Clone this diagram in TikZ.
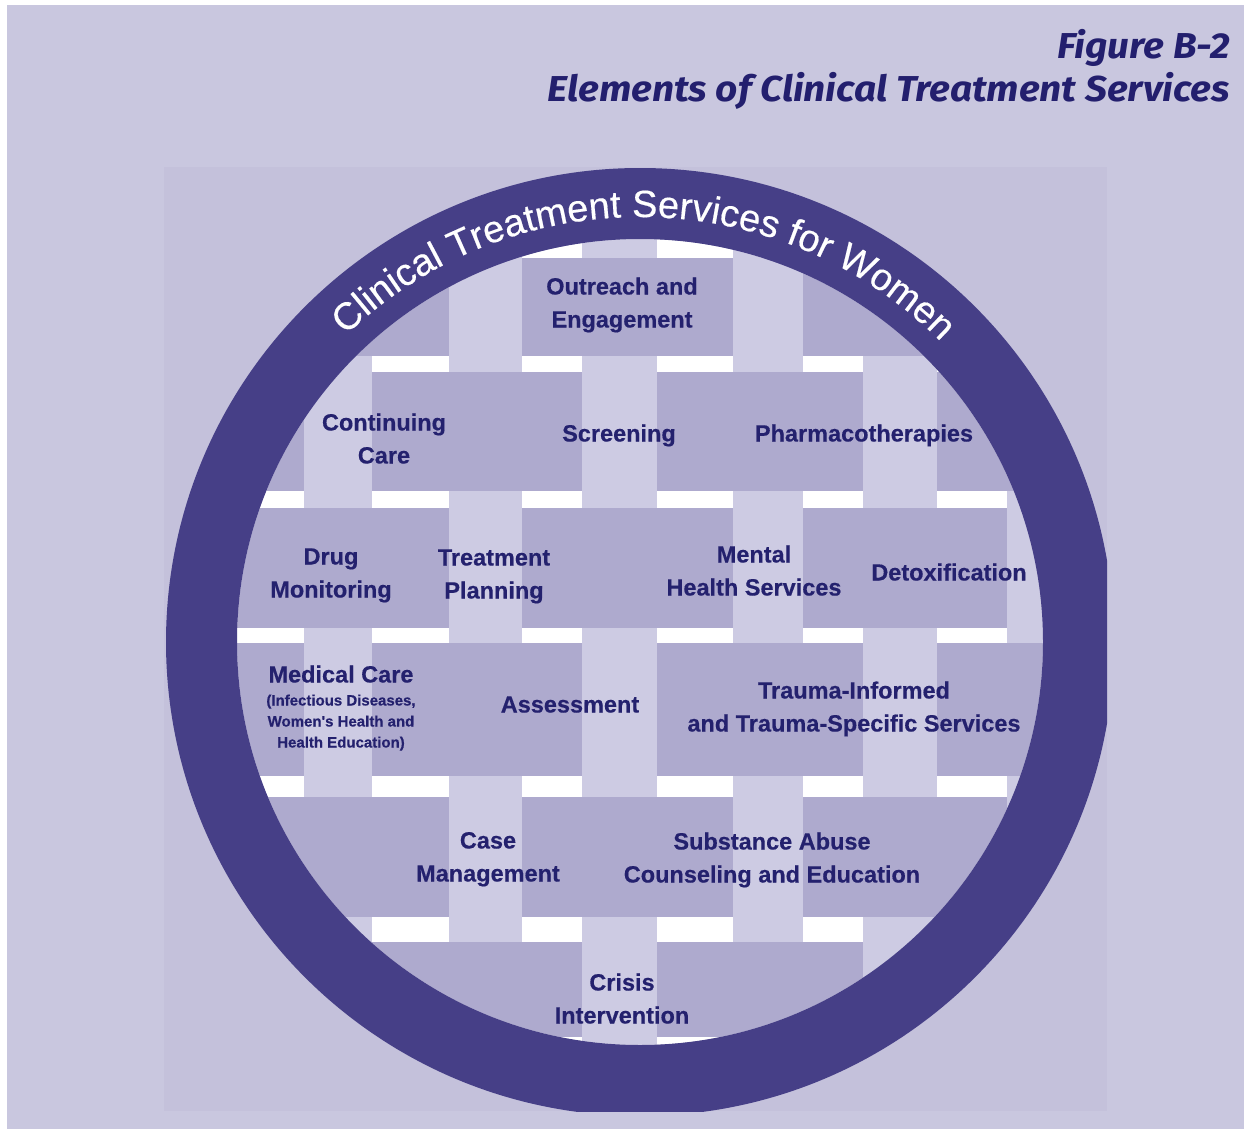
\documentclass[tikz,border=0pt]{standalone}
\usepackage{fontspec}
\usepackage{graphicx}
\setmainfont{Liberation Sans}
\newfontfamily\titlefam{Fira Sans}
\newfontfamily\lblfam{Liberation Sans}[BoldFeatures={FakeBold=0.4}]
\newfontfamily\ringfam{Liberation Sans}[FakeBold=0.4]
\usetikzlibrary{decorations.text}
\definecolor{bgc}{RGB}{201,199,223}
\definecolor{panelc}{RGB}{196,193,219}
\definecolor{ringc}{RGB}{70,63,135}
\definecolor{rowc}{RGB}{174,170,206}
\definecolor{colc}{RGB}{205,203,227}
\definecolor{navy}{RGB}{36,33,110}
\definecolor{titlec}{RGB}{35,31,110}
\newcommand\ringfont{\fontsize{38}{38}\selectfont\ringfam\color{white}}
\newcommand\titlefont{\fontsize{36}{40}\selectfont\titlefam\bfseries\itshape}
\newlength\ttlwd
\begin{document}
\settowidth\ttlwd{\titlefont Elements of Clinical Treatment Services}%
\pgfmathsetmacro\tsx{682/\ttlwd}%
\begin{tikzpicture}[x=1pt,y=-1pt,
  rowstrip/.style={fill=rowc},
  colstrip/.style={fill=colc},
  lbl/.style={text=navy, font=\fontsize{23.5}{33}\selectfont\lblfam\bfseries, align=center, anchor=base, inner sep=0pt},
  sublbl/.style={text=navy, font=\fontsize{15}{21}\selectfont\lblfam\bfseries, align=center, anchor=base, inner sep=0pt},
  ttl/.style={text=titlec, anchor=base east, inner sep=0pt}]
\useasboundingbox (0,0) rectangle (1244,1129);
\fill[white] (0,0) rectangle (1244,1129);
\fill[bgc] (7,5) rectangle (1244,1129);
\fill[panelc] (164,167) rectangle (1107,1111);
% weave inside the circle
\begin{scope}
  \clip (640,642) circle[radius=403];
  \fill[white] (230,230) rectangle (1050,1050);
  \foreach \xa/\xb in {304/372,449/522,582/657,733/803,863/937,1007/1080}
    \fill[colstrip] (\xa,230) rectangle (\xb,1050);
  \foreach \ya/\yb in {258/356,372/491,508/628,643/776,797/917,942/1037}
    \fill[rowstrip] (230,\ya) rectangle (1050,\yb);
  % columns over rows 0,2,4 at B,D,F
  \foreach \ya/\yb in {258/356,508/628,797/917}
    \foreach \xa/\xb in {449/522,733/803,1007/1080}
      \fill[colstrip] (\xa,\ya) rectangle (\xb,\yb);
  % columns over rows 1,3,5 at A,C,E
  \foreach \ya/\yb in {372/491,643/776,942/1037}
    \foreach \xa/\xb in {304/372,582/657,863/937}
      \fill[colstrip] (\xa,\ya) rectangle (\xb,\yb);
\end{scope}
% ring
\begin{scope}
  \clip (164,167) rectangle (1107,1111);
  \fill[ringc, even odd rule] (640,642) circle[radius=474] (640,642) circle[radius=403];
\end{scope}
\path[decorate, decoration={text along path, text align=center,
  text={|\ringfont|Clinical Treatment Services for Women}}]
  (640,642) ++(-134.2:425) arc[start angle=-134.2, end angle=-44.6, radius=425];
% title
\node[ttl] (title1) at (1230,59) {\scalebox{\tsx}[1]{\titlefont Figure B-2}};
\node[ttl] (title2) at (1230,102) {\scalebox{\tsx}[1]{\titlefont Elements of Clinical Treatment Services}};
% labels (anchor base = baseline of the last line)
\node[lbl] (outreach) at (622,327.5) {Outreach and\\Engagement};
\node[lbl] (continuing) at (384,463.5) {Continuing\\Care};
\node[lbl] (screening) at (619,441.5) {Screening};
\node[lbl] (pharma) at (864,441.5) {Pharmacotherapies};
\node[lbl] (drug) at (331,597.5) {Drug\\Monitoring};
\node[lbl] (planning) at (494,598.5) {Treatment\\Planning};
\node[lbl] (mental) at (754,595.5) {Mental\\Health Services};
\node[lbl] (detox) at (949,580.5) {Detoxification};
\node[lbl] (medical) at (341,682.5) {Medical Care};
\node[sublbl] (medicalsub) at (341,747.5) {(Infectious Diseases,\\Women's Health and\\Health Education)};
\node[lbl] (assessment) at (570,712.5) {Assessment};
\node[lbl] (trauma) at (854,731.5) {Trauma-Informed\\and Trauma-Specific Services};
\node[lbl] (casemgmt) at (488,881.5) {Case\\Management};
\node[lbl] (substance) at (772,882.5) {Substance Abuse\\Counseling and Education};
\node[lbl] (crisis) at (622,1023.5) {Crisis\\Intervention};
\end{tikzpicture}
\end{document}
